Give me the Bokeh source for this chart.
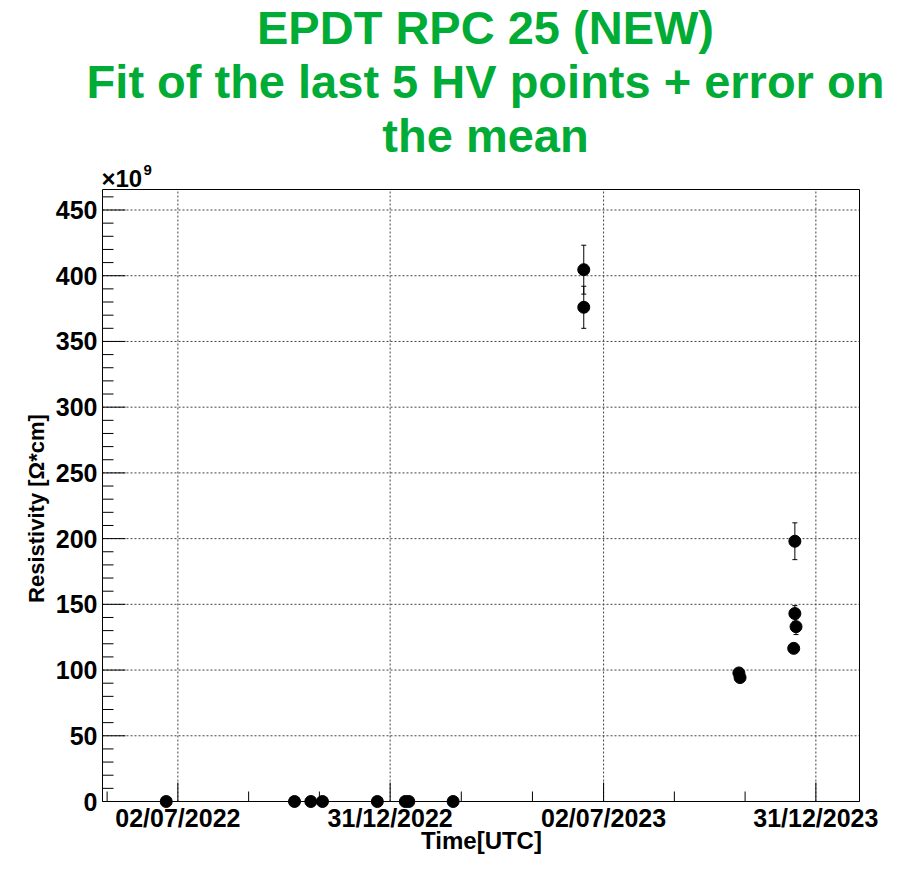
from datetime import datetime, timezone
import numpy as np
from bokeh.plotting import figure
from bokeh.models import ColumnDataSource, Whisker, TeeHead, Label, Range1d
from bokeh.core.properties import value
from bokeh.embed import file_html
from bokeh.resources import INLINE

# ---------------- data ----------------
dates = ["2022-06-22", "2022-10-10", "2022-10-24", "2022-11-03", "2022-12-20",
         "2023-01-13", "2023-01-16", "2023-02-23",
         "2023-06-15", "2023-06-15",
         "2023-10-26", "2023-10-27",
         "2023-12-13", "2023-12-13", "2023-12-14", "2023-12-12"]
resistivity = [0, 0, 0, 0, 0, 0, 0, 0,
               404.6, 376.0,
               97.8, 94.3,
               198.0, 143.0, 133.0, 116.5]          # x 1e9 Ohm*cm
errors = [0, 0, 0, 0, 0, 0, 0, 0,
          18.6, 16.0,
          1.0, 1.0,
          14.0, 6.0, 6.0, 1.5]
major_tick_dates = ["2022-07-02", "2022-12-31", "2023-07-02", "2023-12-31"]
major_tick_labels = ["02/07/2022", "31/12/2022", "02/07/2023", "31/12/2023"]
y_ticks = [0, 50, 100, 150, 200, 250, 300, 350, 400, 450]
y_tick_labels = ["0", "50", "100", "150", "200", "250", "300", "350", "400", "450"]
y_minor_step = 10

title_lines = ["EPDT RPC 25 (NEW)", "Fit of the last 5 HV points + error on", "the mean"]
y_label = "Resistivity [\u03a9*cm]"
x_label = "Time[UTC]"
exp_base = "\u00d710"
exp_power = "9"

# ---------------- helpers ----------------
def ms(s, h=0):
    d = datetime.strptime(s, "%Y-%m-%d").replace(hour=h, tzinfo=timezone.utc)
    return d.timestamp() * 1000.0

x = [ms(d) for d in dates]
y = resistivity
src = ColumnDataSource(dict(x=x, y=y, upper=[a + e for a, e in zip(y, errors)],
                            lower=[a - e for a, e in zip(y, errors)]))

major = [ms(d) for d in major_tick_dates]
step = (major[1] - major[0]) / 3.0
minor = [major[0] - step]
for a, b in zip(major[:-1], major[1:]):
    st = (b - a) / 3.0
    minor += [a + st, a + 2 * st]

# ---------------- layout geometry (canvas pixels) ----------------
W, H = 894, 860
BOX_L, BOX_R = 102, 859          # plot box left / right
BOX_T, ZERO_Y = 189, 801         # plot box top / y=0 line
box_left = ms("2022-04-28", 9)
box_right = ms("2024-02-06", 10)
y_top = 465.6
y_minor = [v for v in range(0, int(y_top) + 1, y_minor_step) if v % 50 != 0]

kx = (BOX_R - BOX_L) / (box_right - box_left)
ky = (ZERO_Y - BOX_T) / y_top
x0 = box_left - BOX_L / kx
x1 = box_right + (W - BOX_R) / kx
y0 = -(H - ZERO_Y) / ky
y1 = y_top + BOX_T / ky

def px(v):
    return x0 + v / kx

def py(v):
    return y1 - v / ky

MID = 0.3465   # em-box middle above the baseline (Liberation Sans)

def mid(baseline, size):
    return py(baseline - MID * size)

FONT = "Liberation Sans"
GREEN = "#00ab36"

p = figure(width=W, height=H, output_backend="svg", toolbar_location=None,
           x_range=Range1d(x0, x1), y_range=Range1d(y0, y1),
           x_axis_type=None, y_axis_type=None, min_border=0)
p.title.visible = False
p.outline_line_color = None
p.background_fill_color = "white"
p.border_fill_color = "white"

GRID = dict(line_color="#444444", line_dash="2 2", line_width=1)
AX = dict(line_color="black", line_width=1)

# grid lines (dotted), limited to the plot box
p.segment(x0=[box_left] * len(y_ticks), x1=[box_right] * len(y_ticks), y0=y_ticks, y1=y_ticks, **GRID)
p.segment(x0=major, x1=major, y0=[0] * len(major), y1=[y_top] * len(major), **GRID)

# box / axes lines
p.segment(x0=[box_left, box_left, box_right, box_left], x1=[box_right, box_left, box_right, box_right],
          y0=[0, 0, 0, y_top], y1=[0, y_top, y_top, y_top], **AX)

# ticks (pointing into the box)
p.segment(x0=major, x1=major, y0=[0] * len(major), y1=[19 / ky] * len(major), **AX)
p.segment(x0=minor, x1=minor, y0=[0] * len(minor), y1=[10 / ky] * len(minor), **AX)
p.segment(x0=[box_left] * len(y_ticks), x1=[box_left + 23 / kx] * len(y_ticks),
          y0=y_ticks, y1=y_ticks, **AX)
p.segment(x0=[box_left] * len(y_minor), x1=[box_left + 11 / kx] * len(y_minor),
          y0=y_minor, y1=y_minor, **AX)

# tick labels
p.text(x=major, y=[mid(ZERO_Y + 25, 25)] * len(major), text=major_tick_labels,
       text_align="center", text_baseline="middle", text_font=value(FONT),
       text_font_style="bold", text_font_size="25px", text_color="black")
p.text(x=[px(BOX_L - 5)] * len(y_ticks), y=y_ticks, text=y_tick_labels,
       text_align="right", text_baseline="middle", text_font=value(FONT),
       text_font_style="bold", text_font_size="25px", text_color="black")

# error bars and points
wh = Whisker(source=src, base="x", upper="upper", lower="lower", dimension="height",
             line_color="black", line_width=1,
             upper_head=TeeHead(size=5, line_color="black", line_width=1),
             lower_head=TeeHead(size=5, line_color="black", line_width=1))
p.add_layout(wh)
p.scatter("x", "y", source=src, size=12, marker="circle", fill_color="black", line_color="black")

# axis titles
p.add_layout(Label(x=px(36), y=py(508), text=y_label, angle=np.pi / 2,
                   text_align="center", text_baseline="middle", text_font=FONT,
                   text_font_style="bold", text_font_size="22px", text_color="black"))
p.add_layout(Label(x=px(481), y=mid(848, 24), text=x_label, text_align="center",
                   text_baseline="middle", text_font=FONT, text_font_style="bold",
                   text_font_size="24px", text_color="black"))

# exponent
p.add_layout(Label(x=px(101), y=mid(186, 24), text=exp_base, text_align="left",
                   text_baseline="middle", text_font=FONT, text_font_style="bold",
                   text_font_size="24px", text_color="black"))
p.add_layout(Label(x=px(143), y=mid(175, 15), text=exp_power, text_align="left",
                   text_baseline="middle", text_font=FONT, text_font_style="bold",
                   text_font_size="15px", text_color="black"))

# title
for txt, bl in zip(title_lines, [43, 97, 151]):
    p.add_layout(Label(x=px(485), y=mid(bl, 47), text=txt, text_align="center",
                       text_baseline="middle", text_font=FONT, text_font_style="bold",
                       text_font_size="47px", text_color=GREEN))

open("out.html", "w").write(file_html(p, INLINE))
